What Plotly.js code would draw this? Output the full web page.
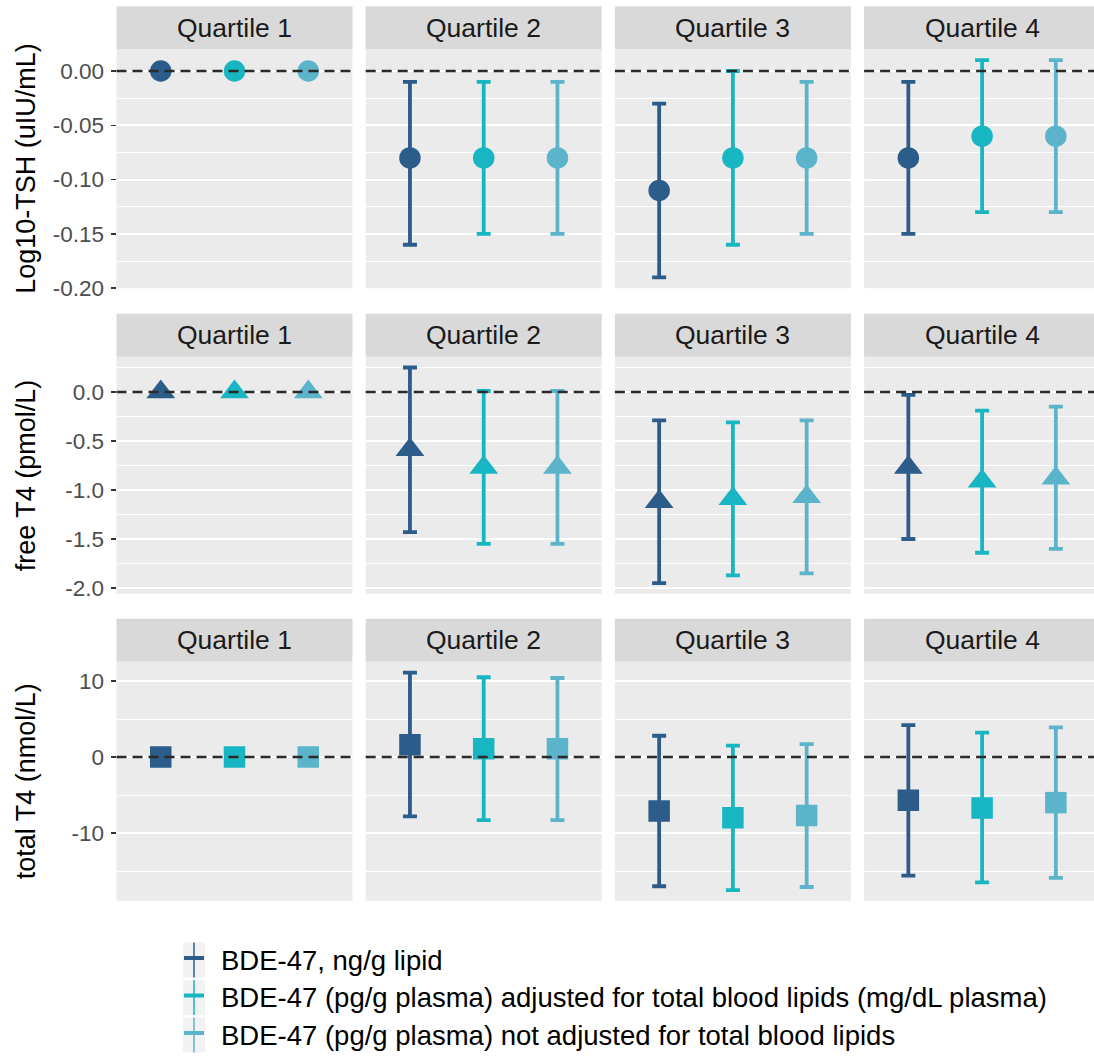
<!DOCTYPE html>
<html>
<head>
<meta charset="utf-8">
<script src="https://cdn.plot.ly/plotly-3.0.1.min.js"></script>
<style>
  html, body { margin: 0; padding: 0; background: #ffffff; overflow: hidden; }
  #chart { width: 1101px; height: 1056px; }
</style>
</head>
<body>
<div id="chart"></div>
<script>
// ---- data -------------------------------------------------------------
const quartiles = ['Quartile 1', 'Quartile 2', 'Quartile 3', 'Quartile 4'];
const exposures = [
  'BDE-47, ng/g lipid',
  'BDE-47 (pg/g plasma) adjusted for total blood lipids (mg/dL plasma)',
  'BDE-47 (pg/g plasma) not adjusted for total blood lipids'
];
const outcomeTitles = ['Log10-TSH (uIU/mL)', 'free T4 (pmol/L)', 'total T4 (nmol/L)'];

// rows = exposure, columns = quartile (Quartile 1 is the reference group)
const tshEst  = [[0, -0.08, -0.11, -0.08], [0, -0.08, -0.08, -0.06], [0, -0.08, -0.08, -0.06]];
const tshLow  = [[null, -0.16, -0.19, -0.15], [null, -0.15, -0.16, -0.13], [null, -0.15, -0.15, -0.13]];
const tshHigh = [[null, -0.01, -0.03, -0.01], [null, -0.01, 0.00, 0.01], [null, -0.01, -0.01, 0.01]];

const ft4Est  = [[0, -0.59, -1.12, -0.77], [0, -0.77, -1.09, -0.91], [0, -0.77, -1.07, -0.88]];
const ft4Low  = [[null, -1.43, -1.95, -1.50], [null, -1.55, -1.87, -1.64], [null, -1.55, -1.85, -1.60]];
const ft4High = [[null, 0.25, -0.29, -0.03], [null, 0.01, -0.31, -0.19], [null, 0.01, -0.29, -0.15]];

const tt4Est  = [[0, 1.6, -7.1, -5.7], [0, 1.1, -8.0, -6.7], [0, 1.1, -7.7, -6.0]];
const tt4Low  = [[null, -7.8, -17.0, -15.6], [null, -8.3, -17.5, -16.5], [null, -8.3, -17.1, -15.9]];
const tt4High = [[null, 11.1, 2.8, 4.2], [null, 10.5, 1.5, 3.2], [null, 10.4, 1.7, 3.9]];

const tshTickVals = [0, -0.05, -0.10, -0.15, -0.20];
const tshTickText = ['0.00', '-0.05', '-0.10', '-0.15', '-0.20'];
const ft4TickVals = [0, -0.5, -1.0, -1.5, -2.0];
const ft4TickText = ['0.0', '-0.5', '-1.0', '-1.5', '-2.0'];
const tt4TickVals = [10, 0, -10];
const tt4TickText = ['10', '0', '-10'];

// ---- styling ----------------------------------------------------------
const colors = ['#2c5c8a', '#18b6c2', '#5cb4cb'];
const symbols = ['circle', 'triangle-up', 'square'];
const markerSizes = [21.5, 25, 21.5];
const FONT = 'Liberation Sans, Arial, Helvetica, sans-serif';

const rows = [
  { est: tshEst, low: tshLow, high: tshHigh, tv: tshTickVals, tt: tshTickText },
  { est: ft4Est, low: ft4Low, high: ft4High, tv: ft4TickVals, tt: ft4TickText },
  { est: tt4Est, low: tt4Low, high: tt4High, tv: tt4TickVals, tt: tt4TickText }
];

// page geometry in pixels
const W = 1101, H = 1056;
const colLeft = [116.5, 365.7, 614.9, 864.1];
const colWidth = 236;
const rowTop = [49.3, 356.7, 661.8];
const rowBottom = [288.2, 593.9, 900.9];
const stripH = 43;
const fx = px => px / W;
const fy = py => 1 - py / H;

// ggplot-style continuous range: data extent plus 5% on each side
function paddedRange(row) {
  const vals = [];
  [row.est, row.low, row.high].forEach(m => m.forEach(r => r.forEach(v => { if (v !== null) vals.push(v); })));
  const lo = Math.min(...vals), hi = Math.max(...vals), pad = (hi - lo) * 0.05;
  return [lo - pad, hi + pad];
}
// minor grid halfway between major ticks, kept inside the range
function minorVals(tv, range) {
  const step = Math.abs(tv[1] - tv[0]);
  const out = [];
  const start = Math.min(...tv) - step / 2;
  for (let v = start; v <= Math.max(...tv) + step; v += step) {
    if (v > range[0] && v < range[1]) out.push(+v.toFixed(6));
  }
  return out;
}

const traces = [];
const layout = {
  width: W, height: H, autosize: false,
  margin: { l: 0, r: 0, t: 0, b: 0, pad: 0 },
  paper_bgcolor: '#ffffff',
  plot_bgcolor: '#ebebeb',
  showlegend: false,
  font: { family: FONT, color: '#000000' },
  shapes: [],
  annotations: []
};

rows.forEach((row, r) => {
  const yRange = paddedRange(row);
  const minors = minorVals(row.tv, yRange);
  quartiles.forEach((q, c) => {
    const idx = r * 4 + c + 1;
    const sfx = idx === 1 ? '' : String(idx);
    const xa = 'x' + sfx, ya = 'y' + sfx;

    layout['xaxis' + sfx] = {
      domain: [fx(colLeft[c]), fx(colLeft[c] + colWidth)],
      anchor: ya,
      type: 'category',
      categoryorder: 'array',
      categoryarray: exposures,
      range: [-0.6, 2.6],
      showticklabels: false, ticks: '', showgrid: false, zeroline: false, showline: false,
      fixedrange: true
    };
    layout['yaxis' + sfx] = {
      domain: [fy(rowBottom[r]), fy(rowTop[r])],
      anchor: xa,
      range: yRange,
      tickmode: 'array', tickvals: row.tv, ticktext: row.tt,
      showticklabels: c === 0,
      ticks: c === 0 ? 'outside' : '',
      ticklen: 5, tickwidth: 1.5, tickcolor: '#333333',
      ticklabelstandoff: 2,
      tickfont: { family: FONT, size: 22.5, color: '#4d4d4d' },
      showgrid: true, gridcolor: '#ffffff', gridwidth: 2,
      minor: { tickvals: minors, showgrid: true, gridcolor: '#ffffff', gridwidth: 1, ticks: '' },
      zeroline: false, showline: false, fixedrange: true
    };

    exposures.forEach((name, s) => {
      const est = row.est[s][c], lo = row.low[s][c], hi = row.high[s][c];
      const hasCI = lo !== null && hi !== null;
      traces.push({
        type: 'scatter', mode: 'markers',
        x: [name], y: [est], xaxis: xa, yaxis: ya,
        name: name, hoverinfo: 'skip',
        marker: { symbol: symbols[r], size: markerSizes[r], color: colors[s], line: { width: 0 } },
        error_y: {
          type: 'data', symmetric: false, visible: hasCI,
          array: [hasCI ? hi - est : 0], arrayminus: [hasCI ? est - lo : 0],
          color: colors[s], thickness: 3.8, width: 7
        }
      });
    });

    // reference line at zero
    layout.shapes.push({
      type: 'line', xref: xa + ' domain', yref: ya,
      x0: 0, x1: 1, y0: 0, y1: 0,
      line: { color: '#2a2a2a', width: 2.4, dash: '10px,6px' }, layer: 'above'
    });
    // facet strip
    layout.shapes.push({
      type: 'rect', xref: 'paper', yref: 'paper', layer: 'below',
      x0: fx(colLeft[c]), x1: fx(colLeft[c] + colWidth),
      y0: fy(rowTop[r]), y1: fy(rowTop[r] - stripH),
      fillcolor: '#d9d9d9', line: { width: 0 }
    });
    layout.annotations.push({
      xref: 'paper', yref: 'paper', showarrow: false,
      x: fx(colLeft[c] + colWidth / 2), y: fy(rowTop[r] - stripH / 2),
      xanchor: 'center', yanchor: 'middle',
      text: q, font: { family: FONT, size: 26.5, color: '#1a1a1a' }
    });
  });

  // outcome title on the left
  layout.annotations.push({
    xref: 'paper', yref: 'paper', showarrow: false,
    x: fx(26), y: fy((rowTop[r] + rowBottom[r]) / 2),
    xanchor: 'center', yanchor: 'middle', textangle: -90,
    text: outcomeTitles[r], font: { family: FONT, size: 27, color: '#000000' }
  });
});

// legend: grey key boxes with an error-bar glyph, then the exposure label
const keyLeft = 183, keyW = 22, keyH = 35;
const keyCenters = [960, 997.5, 1035];
exposures.forEach((name, s) => {
  const cy = keyCenters[s];
  layout.shapes.push({
    type: 'rect', xref: 'paper', yref: 'paper',
    x0: fx(keyLeft), x1: fx(keyLeft + keyW), y0: fy(cy + keyH / 2), y1: fy(cy - keyH / 2),
    fillcolor: '#f2f2f2', line: { width: 0 }
  });
  layout.shapes.push({
    type: 'line', xref: 'paper', yref: 'paper',
    x0: fx(keyLeft + keyW / 2), x1: fx(keyLeft + keyW / 2), y0: fy(cy + keyH / 2), y1: fy(cy - keyH / 2),
    line: { color: colors[s], width: 1.5 }
  });
  layout.shapes.push({
    type: 'line', xref: 'paper', yref: 'paper',
    x0: fx(keyLeft + 1), x1: fx(keyLeft + keyW - 1), y0: fy(cy - 2), y1: fy(cy - 2),
    line: { color: colors[s], width: 4 }
  });
  layout.annotations.push({
    xref: 'paper', yref: 'paper', showarrow: false,
    x: fx(219), y: fy(cy),
    xanchor: 'left', yanchor: 'middle',
    text: name, font: { family: FONT, size: 27.5, color: '#000000' }
  });
});

Plotly.newPlot('chart', traces, layout, { displayModeBar: false, staticPlot: true });
</script>
</body>
</html>
